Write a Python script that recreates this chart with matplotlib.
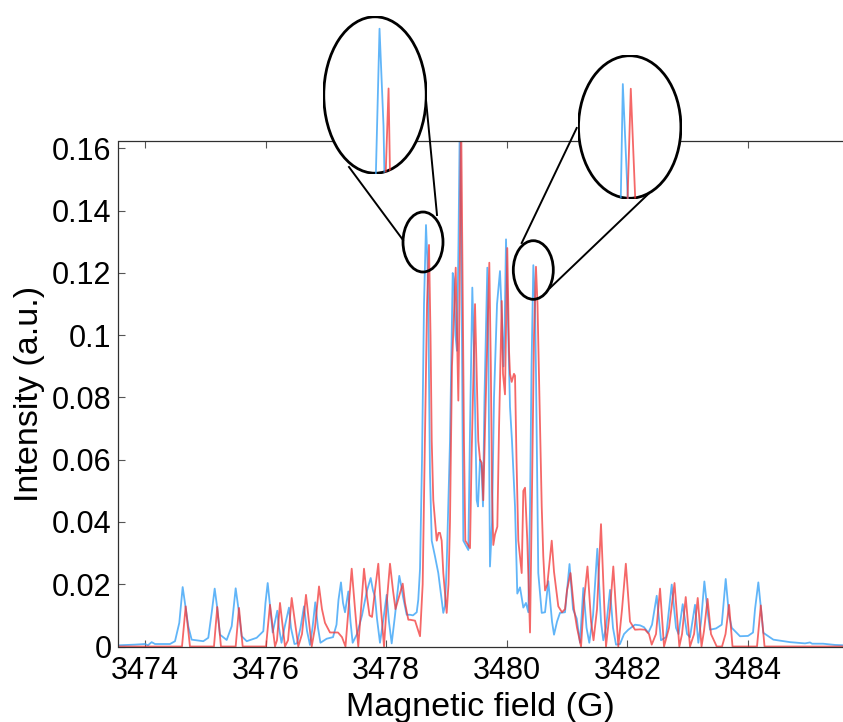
import numpy as np
import matplotlib.pyplot as plt
from matplotlib.patches import Ellipse

plt.rcParams['font.family'] = ['Liberation Sans', 'DejaVu Sans']

# blue spectrum (G, a.u.)
field_blue = np.array([
    3473.585, 3473.834, 3474.000, 3474.050, 3474.111, 3474.166, 3474.415, 3474.498,
    3474.569, 3474.625, 3474.663, 3474.718, 3474.774, 3474.967, 3475.050, 3475.106,
    3475.156, 3475.194, 3475.244, 3475.355, 3475.438, 3475.504, 3475.551, 3475.604,
    3475.687, 3475.852, 3475.962, 3475.998, 3476.035, 3476.073, 3476.118, 3476.156,
    3476.194, 3476.222, 3476.264, 3476.313, 3476.388, 3476.421, 3476.479, 3476.521,
    3476.579, 3476.637, 3476.687, 3476.736, 3476.778, 3476.824, 3476.869, 3476.910,
    3477.013, 3477.118, 3477.176, 3477.209, 3477.250, 3477.284, 3477.317, 3477.372,
    3477.408, 3477.444, 3477.516, 3477.599, 3477.682, 3477.743, 3477.781, 3477.814,
    3477.847, 3477.897, 3477.955, 3478.008, 3478.046, 3478.091, 3478.146, 3478.217,
    3478.254, 3478.279, 3478.340, 3478.395, 3478.444, 3478.506, 3478.532, 3478.561,
    3478.594, 3478.627, 3478.660, 3478.682, 3478.698, 3478.726, 3478.755, 3478.809,
    3478.864, 3478.920, 3478.947, 3478.975, 3479.003, 3479.030, 3479.058, 3479.103,
    3479.124, 3479.149, 3479.174, 3479.199, 3479.224, 3479.249, 3479.279, 3479.307,
    3479.362, 3479.390, 3479.428, 3479.456, 3479.473, 3479.501, 3479.522, 3479.556,
    3479.581, 3479.605, 3479.630, 3479.677, 3479.697, 3479.721, 3479.755, 3479.788,
    3479.838, 3479.887, 3479.920, 3479.945, 3479.962, 3479.987, 3480.012, 3480.053,
    3480.086, 3480.136, 3480.174, 3480.219, 3480.274, 3480.318, 3480.357, 3480.385,
    3480.410, 3480.440, 3480.468, 3480.484, 3480.522, 3480.579, 3480.634, 3480.688,
    3480.750, 3480.783, 3480.833, 3480.882, 3480.965, 3481.040, 3481.098, 3481.159,
    3481.214, 3481.269, 3481.322, 3481.368, 3481.430, 3481.501, 3481.562, 3481.600,
    3481.645, 3481.712, 3481.761, 3481.811, 3481.877, 3481.944, 3482.015, 3482.126,
    3482.209, 3482.275, 3482.347, 3482.408, 3482.486, 3482.557, 3482.640, 3482.735,
    3482.806, 3482.848, 3482.917, 3482.989, 3483.038, 3483.121, 3483.176, 3483.221,
    3483.276, 3483.337, 3483.370, 3483.469, 3483.564, 3483.630, 3483.685, 3483.730,
    3483.867, 3484.000, 3484.083, 3484.116, 3484.171, 3484.216, 3484.254, 3484.420,
    3484.697, 3484.945, 3485.028, 3485.062, 3485.244, 3485.443, 3485.576])
intensity_blue = np.array([
    0.0004, 0.0006, 0.0008, 0.0004, 0.0014, 0.0008, 0.0008, 0.0017,
    0.0076, 0.0191, 0.0140, 0.0065, 0.0022, 0.0017, 0.0028, 0.0108,
    0.0186, 0.0130, 0.0038, 0.0021, 0.0065, 0.0187, 0.0120, 0.0033,
    0.0017, 0.0028, 0.0049, 0.0140, 0.0204, 0.0130, 0.0045, 0.0080,
    0.0115, 0.0060, 0.0012, 0.0060, 0.0125, 0.0060, 0.0008, 0.0010,
    0.0060, 0.0129, 0.0050, 0.0005, 0.0060, 0.0142, 0.0060, 0.0012,
    0.0025, 0.0030, 0.0070, 0.0150, 0.0206, 0.0140, 0.0110, 0.0177,
    0.0080, 0.0012, 0.0040, 0.0100, 0.0180, 0.0220, 0.0180, 0.0160,
    0.0090, 0.0012, 0.0090, 0.0166, 0.0080, 0.0010, 0.0100, 0.0227,
    0.0190, 0.0160, 0.0102, 0.0102, 0.0100, 0.0110, 0.0150, 0.0250,
    0.0600, 0.1100, 0.1354, 0.1250, 0.1090, 0.0557, 0.0340, 0.0290,
    0.0236, 0.0150, 0.0108, 0.0130, 0.0260, 0.0450, 0.0660, 0.1200,
    0.1180, 0.1000, 0.0950, 0.1300, 0.1750, 0.1200, 0.0340, 0.0330,
    0.0310, 0.0700, 0.1153, 0.0950, 0.0770, 0.0470, 0.0450, 0.0600,
    0.0580, 0.0450, 0.0800, 0.1217, 0.0900, 0.0257, 0.0400, 0.0800,
    0.1100, 0.1206, 0.1050, 0.0900, 0.1000, 0.1308, 0.1100, 0.0770,
    0.0660, 0.0450, 0.0170, 0.0190, 0.0125, 0.0140, 0.0110, 0.0450,
    0.0900, 0.1225, 0.1100, 0.0876, 0.0236, 0.0108, 0.0110, 0.0210,
    0.0080, 0.0038, 0.0080, 0.0108, 0.0110, 0.0265, 0.0120, 0.0090,
    0.0012, 0.0188, 0.0060, 0.0012, 0.0100, 0.0314, 0.0080, 0.0020,
    0.0060, 0.0182, 0.0060, 0.0006, 0.0008, 0.0040, 0.0054, 0.0070,
    0.0068, 0.0062, 0.0044, 0.0070, 0.0163, 0.0020, 0.0030, 0.0199,
    0.0060, 0.0040, 0.0136, 0.0040, 0.0030, 0.0134, 0.0012, 0.0080,
    0.0209, 0.0100, 0.0054, 0.0058, 0.0070, 0.0217, 0.0100, 0.0060,
    0.0033, 0.0034, 0.0045, 0.0120, 0.0206, 0.0120, 0.0044, 0.0022,
    0.0014, 0.0010, 0.0013, 0.0009, 0.0009, 0.0005, 0.0004])

# red spectrum (G, a.u.)
field_red = np.array([
    3473.585, 3474.614, 3474.675, 3474.746, 3475.144, 3475.199, 3475.260, 3475.504,
    3475.559, 3475.620, 3476.007, 3476.073, 3476.156, 3476.189, 3476.239, 3476.322,
    3476.372, 3476.433, 3476.542, 3476.604, 3476.670, 3476.765, 3476.819, 3476.886,
    3476.935, 3476.985, 3477.068, 3477.201, 3477.267, 3477.325, 3477.375, 3477.428,
    3477.483, 3477.537, 3477.582, 3477.632, 3477.682, 3477.723, 3477.765, 3477.814,
    3477.869, 3477.914, 3477.964, 3478.013, 3478.063, 3478.113, 3478.154, 3478.212,
    3478.274, 3478.312, 3478.367, 3478.395, 3478.478, 3478.561, 3478.605, 3478.644,
    3478.677, 3478.710, 3478.735, 3478.755, 3478.781, 3478.838, 3478.867, 3478.892,
    3478.920, 3478.947, 3479.003, 3479.033, 3479.058, 3479.091, 3479.153, 3479.196,
    3479.216, 3479.241, 3479.265, 3479.290, 3479.312, 3479.390, 3479.415, 3479.473,
    3479.498, 3479.527, 3479.556, 3479.584, 3479.610, 3479.639, 3479.710, 3479.735,
    3479.755, 3479.776, 3479.804, 3479.843, 3479.871, 3479.916, 3479.937, 3479.970,
    3480.008, 3480.037, 3480.053, 3480.081, 3480.119, 3480.136, 3480.161, 3480.191,
    3480.247, 3480.274, 3480.302, 3480.340, 3480.385, 3480.418, 3480.451, 3480.484,
    3480.509, 3480.522, 3480.579, 3480.605, 3480.634, 3480.672, 3480.745, 3480.783,
    3480.854, 3480.915, 3480.965, 3480.998, 3481.056, 3481.115, 3481.164, 3481.231,
    3481.280, 3481.338, 3481.397, 3481.438, 3481.496, 3481.562, 3481.612, 3481.645,
    3481.712, 3481.766, 3481.849, 3481.911, 3481.974, 3482.043, 3482.126, 3482.209,
    3482.292, 3482.358, 3482.403, 3482.474, 3482.541, 3482.607, 3482.690, 3482.781,
    3482.861, 3482.906, 3482.967, 3483.038, 3483.105, 3483.166, 3483.229, 3483.270,
    3483.329, 3483.386, 3483.481, 3483.569, 3483.627, 3483.685, 3483.743, 3484.149,
    3484.212, 3484.274, 3485.576])
intensity_red = np.array([
    0.0000, 0.0000, 0.0129, 0.0000, 0.0000, 0.0127, 0.0000, 0.0000,
    0.0124, 0.0000, 0.0000, 0.0134, 0.0000, 0.0020, 0.0140, 0.0000,
    0.0020, 0.0156, 0.0000, 0.0040, 0.0166, 0.0000, 0.0060, 0.0193,
    0.0120, 0.0076, 0.0045, 0.0045, 0.0030, 0.0000, 0.0120, 0.0250,
    0.0120, 0.0000, 0.0120, 0.0250, 0.0160, 0.0100, 0.0095, 0.0180,
    0.0266, 0.0120, 0.0000, 0.0150, 0.0266, 0.0180, 0.0120, 0.0160,
    0.0202, 0.0140, 0.0086, 0.0086, 0.0083, 0.0033, 0.0200, 0.0700,
    0.1100, 0.1290, 0.1000, 0.0660, 0.0470, 0.0340, 0.0365, 0.0365,
    0.0340, 0.0236, 0.0108, 0.0200, 0.0400, 0.0900, 0.1217, 0.0790,
    0.1100, 0.1750, 0.1200, 0.0660, 0.0340, 0.0316, 0.0600, 0.1100,
    0.0900, 0.0660, 0.0600, 0.0590, 0.0470, 0.0700, 0.1233, 0.0900,
    0.0500, 0.0326, 0.0360, 0.0385, 0.0700, 0.1110, 0.0876, 0.0810,
    0.1280, 0.0950, 0.0876, 0.0850, 0.0876, 0.0870, 0.0600, 0.0340,
    0.0236, 0.0500, 0.0510, 0.0340, 0.0045, 0.0500, 0.1000, 0.1220,
    0.1100, 0.0980, 0.0450, 0.0290, 0.0180, 0.0200, 0.0340, 0.0240,
    0.0129, 0.0110, 0.0120, 0.0180, 0.0236, 0.0120, 0.0060, 0.0000,
    0.0150, 0.0257, 0.0080, 0.0020, 0.0120, 0.0393, 0.0150, 0.0000,
    0.0120, 0.0257, 0.0000, 0.0120, 0.0266, 0.0080, 0.0054, 0.0055,
    0.0054, 0.0040, 0.0006, 0.0040, 0.0186, 0.0000, 0.0060, 0.0204,
    0.0000, 0.0040, 0.0159, 0.0000, 0.0040, 0.0156, 0.0000, 0.0050,
    0.0153, 0.0040, 0.0000, 0.0000, 0.0040, 0.0134, 0.0000, 0.0000,
    0.0132, 0.0000, 0.0000])

xticks = [3474, 3476, 3478, 3480, 3482, 3484]
yticks = [0, 0.02, 0.04, 0.06, 0.08, 0.1, 0.12, 0.14, 0.16]
ytick_labels = ['0', '0.02', '0.04', '0.06', '0.08', '0.1', '0.12', '0.14', '0.16']

blue = '#3aa3f7'
red = '#f23535'

W, H = 843, 722
fig = plt.figure(figsize=(W / 100, H / 100), dpi=100)

# main axes, placed in pixels
ax = fig.add_axes([118.5 / W, 1 - 646.5 / H, (W - 118.5) / W, (646.5 - 141.3) / H])
ax.plot(field_blue, intensity_blue, color=blue, lw=1.3, alpha=0.8)
ax.plot(field_red, intensity_red, color=red, lw=1.3, alpha=0.75)
ax.set_xlim(3473.561, 3485.575)
ax.set_ylim(0, 0.1623)
ax.set_xticks(xticks)
ax.set_yticks(yticks)
ax.set_yticklabels(ytick_labels)
ax.tick_params(direction='in', length=5, width=0.8, color='#555555',
               labelsize=22, top=True, right=False)
ax.tick_params(axis='x', pad=7)
ax.tick_params(axis='y', pad=5)
ax.spines['right'].set_visible(False)
for s in ['left', 'bottom', 'top']:
    ax.spines[s].set_color('#303030')
    ax.spines[s].set_linewidth(0.9)
ax.set_xlabel('Magnetic field (G)', fontsize=24.5, labelpad=4)
ax.set_ylabel('Intensity (a.u.)', fontsize=24.5, labelpad=5)

# overlay in pixel coordinates for the magnifier circles
ov = fig.add_axes([0, 0, 1, 1], zorder=5)
ov.set_xlim(0, W)
ov.set_ylim(H, 0)
ov.set_axis_off()

# small circle, big circle, connector lines, zoom centre (data)
magnifiers = [
    dict(small=(423, 242, 40, 60), big=(375, 95, 104, 158),
         lines=[((349, 167), (403, 240)), ((426, 100), (437, 215))],
         center=(3478.635, 0.1283)),
    dict(small=(533.3, 270, 40, 58.6), big=(629.7, 127, 104, 144),
         lines=[((576.7, 128), (521.7, 243)), ((648.3, 194), (550, 288))],
         center=(3480.478, 0.1179)),
]
mag = 3.0
px_per_gauss = 60.3
px_per_unit = 3112.0

for m in magnifiers:
    sx, sy, sw, sh = m['small']
    ov.add_patch(Ellipse((sx, sy), sw, sh, fill=False, ec='black', lw=2.0))
    for (x0, y0), (x1, y1) in m['lines']:
        ov.plot([x0, x1], [y0, y1], color='black', lw=1.4)
    bx, by, bw, bh = m['big']
    ins = fig.add_axes([(bx - bw / 2) / W, 1 - (by + bh / 2) / H, bw / W, bh / H], zorder=6)
    ins.set_axis_off()
    cx, cy = m['center']
    hw = bw / 2 / mag / px_per_gauss
    hh = bh / 2 / mag / px_per_unit
    ins.set_xlim(cx - hw, cx + hw)
    ins.set_ylim(cy - hh, cy + hh)
    fill = Ellipse((0.5, 0.5), 1, 1, transform=ins.transAxes, fc='white', ec='none')
    ins.add_patch(fill)
    lb, = ins.plot(field_blue, intensity_blue, color=blue, lw=1.3, alpha=0.8)
    lr, = ins.plot(field_red, intensity_red, color=red, lw=1.3, alpha=0.75)
    lb.set_clip_path(fill)
    lr.set_clip_path(fill)
    ins.add_patch(Ellipse((0.5, 0.5), 0.985, 0.99, transform=ins.transAxes,
                          fill=False, ec='black', lw=2.0))

fig.savefig('out.png', dpi=100)
